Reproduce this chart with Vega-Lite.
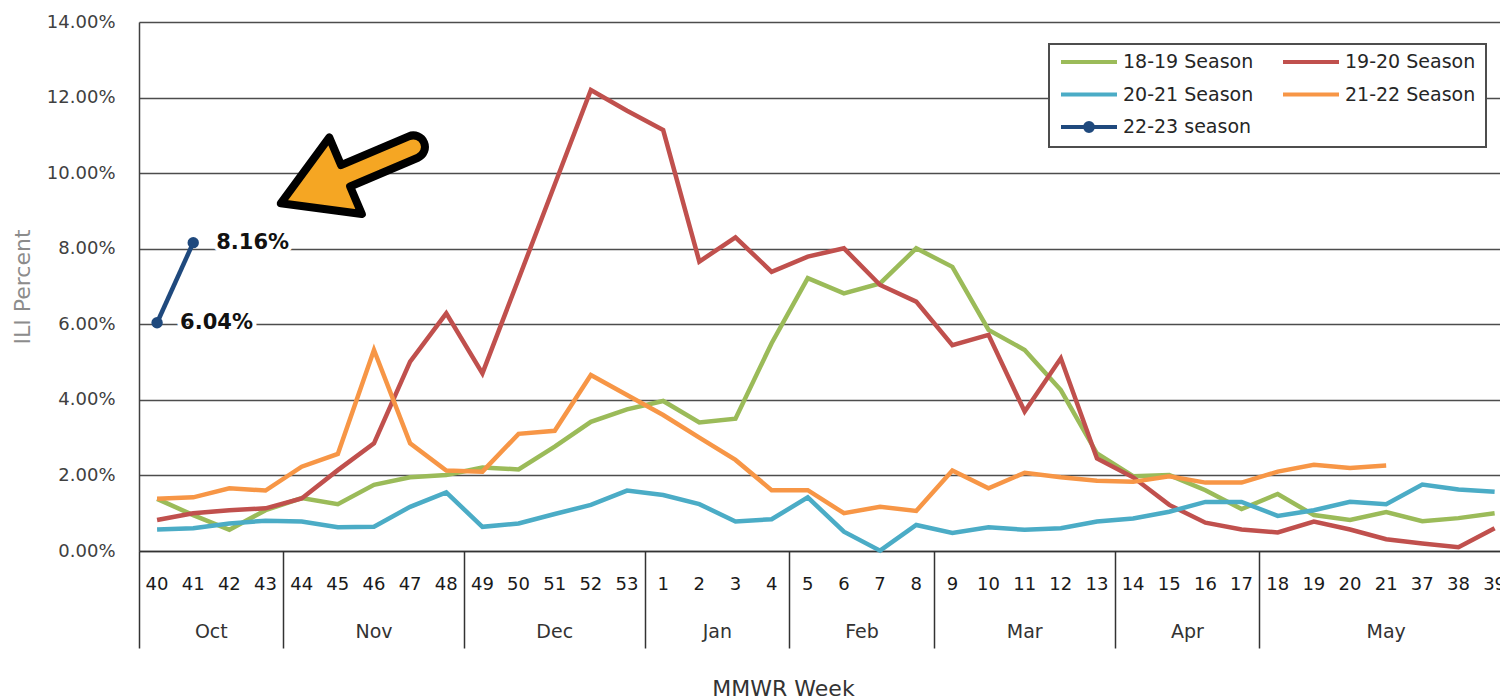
{
  "$schema": "https://vega.github.io/schema/vega-lite/v6.json",
  "width": 1361,
  "height": 529,
  "autosize": {"type": "none"},
  "padding": {"left": 139, "top": 22, "right": 0, "bottom": 148},
  "background": "white",
  "config": {
    "view": {"stroke": null},
    "font": "DejaVu Sans",
    "legend": {"strokeWidth": 2},
    "axisY": {"format": ".2%", "labelFontSize": 18, "labelColor": "#404040", "labelPadding": 24, "ticks": false, "tickSize": 0, "domain": true, "domainColor": "#404040", "domainWidth": 1.5, "grid": true, "gridColor": "#4d4d4d", "gridWidth": 1.5, "titleFontSize": 22, "titleFontWeight": "normal", "titleColor": "#8c8c8c", "titleX": -117, "titleY": 264.5, "titleBaseline": "middle"}
  },
  "data": {"values": [
    {"week": "40", "18-19 Season": 0.0138, "19-20 Season": 0.0082, "20-21 Season": 0.0057, "21-22 Season": 0.0138, "22-23 season": 0.0604},
    {"week": "41", "18-19 Season": 0.0095, "19-20 Season": 0.0100, "20-21 Season": 0.0060, "21-22 Season": 0.0142, "22-23 season": 0.0816},
    {"week": "42", "18-19 Season": 0.0056, "19-20 Season": 0.0108, "20-21 Season": 0.0073, "21-22 Season": 0.0166},
    {"week": "43", "18-19 Season": 0.0108, "19-20 Season": 0.0113, "20-21 Season": 0.0080, "21-22 Season": 0.0160},
    {"week": "44", "18-19 Season": 0.0140, "19-20 Season": 0.0139, "20-21 Season": 0.0078, "21-22 Season": 0.0223},
    {"week": "45", "18-19 Season": 0.0124, "19-20 Season": 0.0214, "20-21 Season": 0.0063, "21-22 Season": 0.0257},
    {"week": "46", "18-19 Season": 0.0175, "19-20 Season": 0.0285, "20-21 Season": 0.0064, "21-22 Season": 0.0532},
    {"week": "47", "18-19 Season": 0.0195, "19-20 Season": 0.0501, "20-21 Season": 0.0117, "21-22 Season": 0.0285},
    {"week": "48", "18-19 Season": 0.0201, "19-20 Season": 0.0629, "20-21 Season": 0.0155, "21-22 Season": 0.0213},
    {"week": "49", "18-19 Season": 0.0221, "19-20 Season": 0.0470, "20-21 Season": 0.0064, "21-22 Season": 0.0210},
    {"week": "50", "18-19 Season": 0.0216, "19-20 Season": 0.0720, "20-21 Season": 0.0073, "21-22 Season": 0.0310},
    {"week": "51", "18-19 Season": 0.0276, "19-20 Season": 0.0970, "20-21 Season": 0.0098, "21-22 Season": 0.0318},
    {"week": "52", "18-19 Season": 0.0342, "19-20 Season": 0.1220, "20-21 Season": 0.0122, "21-22 Season": 0.0466},
    {"week": "53", "18-19 Season": 0.0375, "19-20 Season": 0.1165, "20-21 Season": 0.0160, "21-22 Season": 0.0413},
    {"week": "1", "18-19 Season": 0.0397, "19-20 Season": 0.1114, "20-21 Season": 0.0148, "21-22 Season": 0.0360},
    {"week": "2", "18-19 Season": 0.0340, "19-20 Season": 0.0766, "20-21 Season": 0.0124, "21-22 Season": 0.0300},
    {"week": "3", "18-19 Season": 0.0350, "19-20 Season": 0.0830, "20-21 Season": 0.0078, "21-22 Season": 0.0241},
    {"week": "4", "18-19 Season": 0.0550, "19-20 Season": 0.0739, "20-21 Season": 0.0084, "21-22 Season": 0.0161},
    {"week": "5", "18-19 Season": 0.0722, "19-20 Season": 0.0779, "20-21 Season": 0.0142, "21-22 Season": 0.0161},
    {"week": "6", "18-19 Season": 0.0682, "19-20 Season": 0.0801, "20-21 Season": 0.0051, "21-22 Season": 0.0100},
    {"week": "7", "18-19 Season": 0.0708, "19-20 Season": 0.0704, "20-21 Season": 0.0001, "21-22 Season": 0.0117},
    {"week": "8", "18-19 Season": 0.0801, "19-20 Season": 0.0660, "20-21 Season": 0.0069, "21-22 Season": 0.0106},
    {"week": "9", "18-19 Season": 0.0752, "19-20 Season": 0.0545, "20-21 Season": 0.0048, "21-22 Season": 0.0213},
    {"week": "10", "18-19 Season": 0.0585, "19-20 Season": 0.0572, "20-21 Season": 0.0063, "21-22 Season": 0.0166},
    {"week": "11", "18-19 Season": 0.0532, "19-20 Season": 0.0369, "20-21 Season": 0.0056, "21-22 Season": 0.0207},
    {"week": "12", "18-19 Season": 0.0426, "19-20 Season": 0.0510, "20-21 Season": 0.0060, "21-22 Season": 0.0195},
    {"week": "13", "18-19 Season": 0.0258, "19-20 Season": 0.0245, "20-21 Season": 0.0078, "21-22 Season": 0.0186},
    {"week": "14", "18-19 Season": 0.0198, "19-20 Season": 0.0195, "20-21 Season": 0.0086, "21-22 Season": 0.0183},
    {"week": "15", "18-19 Season": 0.0201, "19-20 Season": 0.0122, "20-21 Season": 0.0104, "21-22 Season": 0.0198},
    {"week": "16", "18-19 Season": 0.0161, "19-20 Season": 0.0075, "20-21 Season": 0.0130, "21-22 Season": 0.0181},
    {"week": "17", "18-19 Season": 0.0111, "19-20 Season": 0.0057, "20-21 Season": 0.0130, "21-22 Season": 0.0181},
    {"week": "18", "18-19 Season": 0.0151, "19-20 Season": 0.0049, "20-21 Season": 0.0093, "21-22 Season": 0.0210},
    {"week": "19", "18-19 Season": 0.0095, "19-20 Season": 0.0078, "20-21 Season": 0.0108, "21-22 Season": 0.0228},
    {"week": "20", "18-19 Season": 0.0082, "19-20 Season": 0.0057, "20-21 Season": 0.0130, "21-22 Season": 0.0220},
    {"week": "21", "18-19 Season": 0.0103, "19-20 Season": 0.0031, "20-21 Season": 0.0124, "21-22 Season": 0.0226},
    {"week": "37", "18-19 Season": 0.0079, "19-20 Season": 0.0020, "20-21 Season": 0.0176},
    {"week": "38", "18-19 Season": 0.0087, "19-20 Season": 0.0010, "20-21 Season": 0.0163},
    {"week": "39", "18-19 Season": 0.0100, "19-20 Season": 0.0060, "20-21 Season": 0.0157}
  ]},
  "transform": [
    {"fold": ["18-19 Season", "19-20 Season", "20-21 Season", "21-22 Season", "22-23 season"], "as": ["season", "ili"]},
    {"filter": "isValid(datum.ili)"}
  ],
  "resolve": {"axis": {"x": "independent", "y": "shared"}},
  "layer": [
    {
      "mark": {"type": "line", "strokeWidth": 4.5},
      "encoding": {
        "x": {
          "field": "week", "type": "nominal", "bandPosition": 0.5,
          "scale": {"type": "band", "domain": ["40","41","42","43","44","45","46","47","48","49","50","51","52","53","1","2","3","4","5","6","7","8","9","10","11","12","13","14","15","16","17","18","19","20","21","37","38","39"], "range": [0, 1373.7], "paddingInner": 0, "paddingOuter": 0},
          "axis": {"orient": "bottom", "title": "MMWR Week", "titleFontSize": 22, "titleFontWeight": "normal", "titleColor": "#333333", "titleX": 644, "titleY": 137, "titleBaseline": "middle", "labelFontSize": 18, "labelColor": "#1a1a1a", "labelPadding": 33, "labelBaseline": "middle", "labelAngle": 0, "labelOverlap": false, "labelFlush": false, "ticks": false, "tickSize": 0, "domain": true, "domainColor": "#333333", "domainWidth": 1.5, "grid": false}
        },
        "y": {
          "field": "ili", "type": "quantitative", "title": "ILI Percent",
          "scale": {"domain": [0, 0.14], "nice": false, "zero": true},
          "axis": {"values": [0, 0.02, 0.04, 0.06, 0.08, 0.1, 0.12, 0.14]}
        },
        "color": {
          "field": "season", "type": "nominal",
          "scale": {"domain": ["18-19 Season", "19-20 Season", "20-21 Season", "21-22 Season", "22-23 season"], "range": ["#9BBB59", "#C0504D", "#4BACC6", "#F79646", "#1F497D"]},
          "legend": {
            "title": null, "orient": "none", "legendX": 910, "legendY": 22, "columns": 2, "direction": "horizontal",
            "symbolType": "stroke", "symbolSize": 3136, "symbolStrokeWidth": 4, "clipHeight": 16,
            "rowPadding": 13.5, "columnPadding": 27, "labelOffset": 4, "labelFontSize": 19, "labelColor": "#262626", "labelLimit": 300,
            "padding": 10, "strokeColor": "#4d4d4d", "fillColor": "white",
            "encode": {"symbols": {"update": {
              "shape": {"signal": "datum.value === '22-23 season' ? 'M-1,0H1M-0.14,0A0.14,0.14,0,1,1,0.14,0A0.14,0.14,0,1,1,-0.14,0Z' : 'stroke'"},
              "fill": {"signal": "datum.value === '22-23 season' ? '#1F497D' : 'transparent'"}
            }}}
          }
        }
      }
    },
    {
      "transform": [{"filter": "datum.season === '22-23 season'"}],
      "mark": {"type": "point", "filled": true, "size": 130, "color": "#1F497D", "opacity": 1},
      "encoding": {
        "x": {
          "field": "week", "type": "nominal", "bandPosition": 0.5,
          "scale": {"type": "band", "domain": ["40","41","42","43","44","45","46","47","48","49","50","51","52","53","1","2","3","4","5","6","7","8","9","10","11","12","13","14","15","16","17","18","19","20","21","37","38","39"], "range": [0, 1373.7], "paddingInner": 0, "paddingOuter": 0},
          "axis": {"orient": "bottom", "values": ["40", "44", "49", "1", "5", "9", "14", "18"], "bandPosition": 0, "ticks": true, "tickSize": 97, "tickColor": "#333333", "tickWidth": 1.5, "labels": false, "domain": false, "grid": false, "title": null}
        },
        "y": {"field": "ili", "type": "quantitative", "title": "ILI Percent", "axis": {"values": [0, 0.02, 0.04, 0.06, 0.08, 0.1, 0.12, 0.14]}}
      }
    },
    {
      "transform": [{"filter": "datum.season === '22-23 season'"}],
      "mark": {"type": "text", "align": "left", "baseline": "middle", "dx": 23, "fontSize": 21, "fontWeight": "bold", "fill": "white", "stroke": "white", "strokeWidth": 8},
      "encoding": {
        "x": {
          "field": "week", "type": "nominal", "bandPosition": 0.5,
          "scale": {"type": "band", "domain": ["40","41","42","43","44","45","46","47","48","49","50","51","52","53","1","2","3","4","5","6","7","8","9","10","11","12","13","14","15","16","17","18","19","20","21","37","38","39"], "range": [0, 1373.7], "paddingInner": 0, "paddingOuter": 0},
          "axis": {"orient": "bottom", "values": ["42", "3", "7", "16"], "labelOffset": -18.07, "labelExpr": "datum.value == '42' ? 'Oct' : datum.value == '3' ? 'Jan' : datum.value == '7' ? 'Feb' : 'Apr'", "ticks": false, "tickSize": 0, "labelPadding": 80, "labelBaseline": "middle", "labelAngle": 0, "labelFontSize": 19, "labelColor": "#333333", "labelFlush": false, "labelOverlap": false, "domain": false, "grid": false, "title": null}
        },
        "y": {"field": "ili", "type": "quantitative", "title": "ILI Percent", "axis": {"values": [0, 0.02, 0.04, 0.06, 0.08, 0.1, 0.12, 0.14]}},
        "text": {"field": "ili", "type": "quantitative", "format": ".2%"}
      }
    },
    {
      "transform": [{"filter": "datum.season === '22-23 season'"}],
      "mark": {"type": "text", "align": "left", "baseline": "middle", "dx": 23, "fontSize": 21, "fontWeight": "bold", "color": "#111111"},
      "encoding": {
        "x": {
          "field": "week", "type": "nominal", "bandPosition": 0.5,
          "scale": {"type": "band", "domain": ["40","41","42","43","44","45","46","47","48","49","50","51","52","53","1","2","3","4","5","6","7","8","9","10","11","12","13","14","15","16","17","18","19","20","21","37","38","39"], "range": [0, 1373.7], "paddingInner": 0, "paddingOuter": 0},
          "axis": {"orient": "bottom", "values": ["46", "51", "11", "21"], "labelExpr": "datum.value == '46' ? 'Nov' : datum.value == '51' ? 'Dec' : datum.value == '11' ? 'Mar' : 'May'", "ticks": false, "tickSize": 0, "labelPadding": 80, "labelBaseline": "middle", "labelAngle": 0, "labelFontSize": 19, "labelColor": "#333333", "labelFlush": false, "labelOverlap": false, "domain": false, "grid": false, "title": null}
        },
        "y": {"field": "ili", "type": "quantitative", "title": "ILI Percent", "axis": {"values": [0, 0.02, 0.04, 0.06, 0.08, 0.1, 0.12, 0.14]}},
        "text": {"field": "ili", "type": "quantitative", "format": ".2%"}
      }
    },
    {
      "data": {"values": [{"note": "arrow"}]},
      "mark": {"type": "point", "shape": "M0.94,0L0.06,0.52L0.06,0.145L-0.86,0.145A0.145,0.145,0,0,1,-0.86,-0.145L0.06,-0.145L0.06,-0.52Z", "size": 25600, "angle": 157, "filled": true, "fill": "#F5A623", "stroke": "#000000", "strokeWidth": 8, "strokeJoin": "round", "opacity": 1},
      "encoding": {
        "x": {
          "datum": "45", "type": "nominal", "bandPosition": 0.837,
          "scale": {"type": "band", "domain": ["40","41","42","43","44","45","46","47","48","49","50","51","52","53","1","2","3","4","5","6","7","8","9","10","11","12","13","14","15","16","17","18","19","20","21","37","38","39"], "range": [0, 1373.7], "paddingInner": 0, "paddingOuter": 0},
          "axis": null
        },
        "y": {"datum": 0.0998, "type": "quantitative", "title": "ILI Percent", "axis": {"values": [0, 0.02, 0.04, 0.06, 0.08, 0.1, 0.12, 0.14]}}
      }
    }
  ]
}
